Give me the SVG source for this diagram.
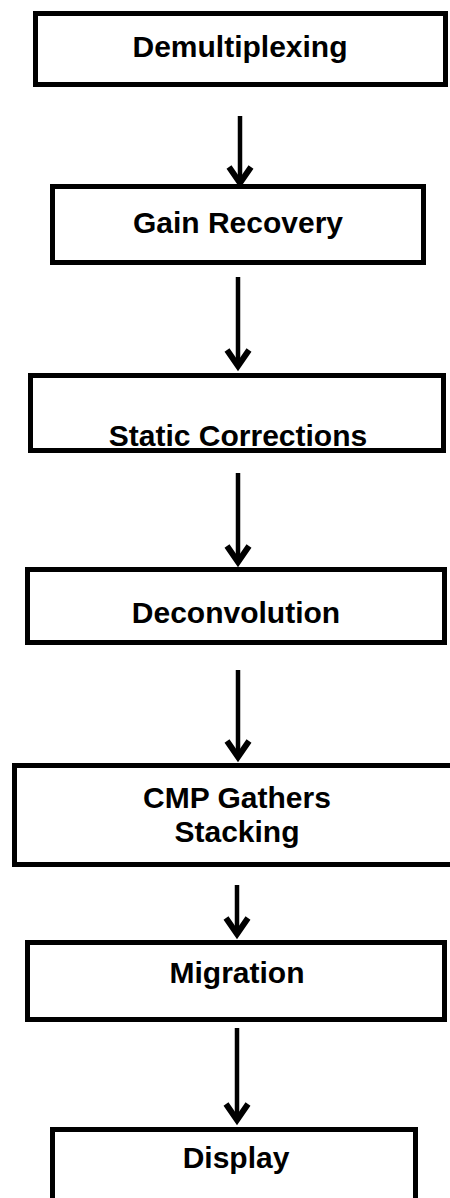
<svg xmlns="http://www.w3.org/2000/svg" width="450" height="1198" viewBox="0 0 450 1198">
<style>
.box{fill:#fff;stroke:#000;stroke-width:5}
.lbl{font-family:"Liberation Sans",Arial,sans-serif;font-weight:bold;font-size:30px;fill:#000;text-anchor:middle}
.arr{fill:none;stroke:#000;stroke-width:4.5;stroke-linecap:butt}
.head{fill:none;stroke:#000;stroke-width:6;stroke-linejoin:miter;stroke-linecap:butt}
</style>
<rect width="450" height="1198" fill="#fff"/>
<g id="connectors">
<path class="arr" d="M240,116 V183"/><path class="head" d="M229,167 L240,183 L251,167"/>
<path class="arr" d="M238,277 V367"/><path class="head" d="M227,350 L238,366 L249,350"/>
<path class="arr" d="M238,473 V563"/><path class="head" d="M227,546 L238,562 L249,546"/>
<path class="arr" d="M238,670 V758"/><path class="head" d="M227,741 L238,757 L249,741"/>
<path class="arr" d="M237,885 V935"/><path class="head" d="M226,918 L237,934 L248,918"/>
<path class="arr" d="M237,1028 V1121"/><path class="head" d="M226,1104 L237,1120 L248,1104"/>
</g>
<g id="demultiplexing">
<rect class="box" x="35.5" y="13.5" width="410" height="71"/>
<text class="lbl" x="240" y="57">Demultiplexing</text>
</g>
<g id="gain-recovery">
<rect class="box" x="52.5" y="186.5" width="371" height="76"/>
<text class="lbl" x="238" y="233">Gain Recovery</text>
</g>
<g id="static-corrections">
<rect class="box" x="30.5" y="375.5" width="413" height="75"/>
<text class="lbl" x="238" y="446">Static Corrections</text>
</g>
<g id="deconvolution">
<rect class="box" x="27.5" y="569.5" width="417" height="73"/>
<text class="lbl" x="236" y="623">Deconvolution</text>
</g>
<g id="cmp-stacking">
<rect class="box" x="14.5" y="765.5" width="440" height="99"/>
<text class="lbl" x="237" y="808">CMP Gathers</text>
<text class="lbl" x="237" y="842">Stacking</text>
</g>
<g id="migration">
<rect class="box" x="27.5" y="942.5" width="417" height="77"/>
<text class="lbl" x="237" y="983">Migration</text>
</g>
<g id="display">
<rect class="box" x="52.5" y="1129.5" width="363" height="75"/>
<text class="lbl" x="236" y="1168">Display</text>
</g>
</svg>
